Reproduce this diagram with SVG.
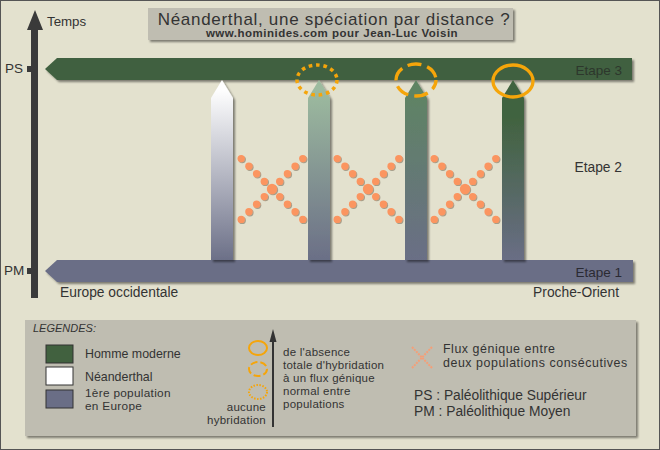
<svg xmlns="http://www.w3.org/2000/svg" width="660" height="450" viewBox="0 0 660 450">
<defs>
<filter id="sh" x="-10%" y="-10%" width="130%" height="140%"><feDropShadow dx="2" dy="2" stdDeviation="1" flood-color="#000" flood-opacity="0.45"/></filter>
<filter id="dsh" x="-50%" y="-50%" width="200%" height="200%"><feDropShadow dx="1" dy="1" stdDeviation="0.6" flood-color="#6b5a40" flood-opacity="0.5"/></filter>
<linearGradient id="g1" x1="0" y1="80" x2="0" y2="262" gradientUnits="userSpaceOnUse"><stop offset="0.05" stop-color="#ffffff"/><stop offset="1" stop-color="#6a6e86"/></linearGradient>
<linearGradient id="g2" x1="0" y1="80" x2="0" y2="262" gradientUnits="userSpaceOnUse"><stop offset="0.05" stop-color="#9dbb9f"/><stop offset="1" stop-color="#6a6e86"/></linearGradient>
<linearGradient id="g3" x1="0" y1="80" x2="0" y2="262" gradientUnits="userSpaceOnUse"><stop offset="0.05" stop-color="#5f8463"/><stop offset="1" stop-color="#6a6e86"/></linearGradient>
<linearGradient id="g4" x1="0" y1="80" x2="0" y2="262" gradientUnits="userSpaceOnUse"><stop offset="0.2" stop-color="#41633f"/><stop offset="1" stop-color="#6a6e86"/></linearGradient>
<g id="cross">
<circle cx="0" cy="0" r="5.2"/>
<circle cx="-7.7" cy="-7.6" r="3.7"/><circle cx="-15.4" cy="-15.2" r="3.7"/><circle cx="-23.1" cy="-22.8" r="3.7"/><circle cx="-30.8" cy="-30.4" r="3.7"/>
<circle cx="7.7" cy="7.6" r="3.7"/><circle cx="15.4" cy="15.2" r="3.7"/><circle cx="23.1" cy="22.8" r="3.7"/><circle cx="30.8" cy="30.4" r="3.7"/>
<circle cx="7.7" cy="-7.6" r="3.7"/><circle cx="15.4" cy="-15.2" r="3.7"/><circle cx="23.1" cy="-22.8" r="3.7"/><circle cx="30.8" cy="-30.4" r="3.7"/>
<circle cx="-7.7" cy="7.6" r="3.7"/><circle cx="-15.4" cy="15.2" r="3.7"/><circle cx="-23.1" cy="22.8" r="3.7"/><circle cx="-30.8" cy="30.4" r="3.7"/>
</g>
</defs>
<style>
text{font-family:"Liberation Sans",Arial,sans-serif;fill:#333}
.lbl{font-size:13.8px}
.leg{font-size:12.4px}
.leg2{font-size:11.8px;letter-spacing:0.3px}
.mid{font-size:11.5px;letter-spacing:0.25px}
.rleg{font-size:13.8px}
.rleg2{font-size:12.4px;letter-spacing:0.55px}
.ring{fill:none;stroke:#f5a50a}
.dots{fill:#fb9560;filter:url(#dsh)}
.col{filter:url(#sh)}
</style>
<rect x="0.5" y="0.5" width="659" height="449" fill="#e3e1ce" stroke="#555" stroke-width="1"/>

<g id="title">
<rect x="148" y="8" width="365" height="32" fill="#bfbdb1" filter="url(#sh)"/>
<text x="334" y="24.5" text-anchor="middle" font-size="17" letter-spacing="0.7">Néanderthal, une spéciation par distance ?</text>
<text x="332" y="37" text-anchor="middle" font-size="11.5" font-weight="bold" letter-spacing="0.5">www.hominides.com pour Jean-Luc Voisin</text>
</g>

<g id="axis">
<rect x="31" y="26" width="7" height="272" fill="#3a3a3a"/>
<path d="M35,10 L43,30 L27,30 Z" fill="#3a3a3a"/>
<rect x="27" y="66" width="5" height="6" fill="#3a3a3a"/>
<rect x="27" y="268" width="5" height="6" fill="#3a3a3a"/>
<text x="47" y="26" font-size="13.3">Temps</text>
<text x="5" y="73" font-size="13.5">PS</text>
<text x="4" y="275" font-size="13.5">PM</text>
</g>

<g id="etape3">
<path d="M57,58 L632,58 L632,80 L57,80 L45,69 Z" fill="#41613f" filter="url(#sh)"/>
<text x="622" y="75" text-anchor="end" font-size="13.5" style="fill:#2d372c">Etape 3</text>
</g>

<g id="etape1">
<path d="M57,260 L633,260 L633,282 L57,282 L45,271 Z" fill="#6a6e86" filter="url(#sh)"/>
<text x="622" y="277" text-anchor="end" font-size="13.5" style="fill:#2a2a33">Etape 1</text>
</g>

<text id="etape2" x="622" y="172" text-anchor="end" class="lbl">Etape 2</text>

<g id="columns">
<path class="col" d="M211,260 L211,98 L222,80 L233,98 L233,260 Z" fill="url(#g1)"/>
<path class="col" d="M308,260 L308,98 L319,80 L330,98 L330,260 Z" fill="url(#g2)"/>
<path class="col" d="M405,260 L405,98 L416,80 L427,98 L427,260 Z" fill="url(#g3)"/>
<path class="col" d="M502,260 L502,98 L513,80 L524,98 L524,260 Z" fill="url(#g4)"/>
</g>

<g id="rings">
<ellipse class="ring" cx="317" cy="80" rx="20" ry="15" stroke-width="3.5" stroke-dasharray="3.6 3.8"/>
<ellipse class="ring" cx="416" cy="80" rx="20" ry="16" stroke-width="3.3" stroke-dasharray="14 6" stroke-dashoffset="4"/>
<ellipse class="ring" cx="513" cy="81" rx="20" ry="16" stroke-width="3.3"/>
</g>

<g id="fluxes" class="dots">
<use href="#cross" x="272" y="189"/>
<use href="#cross" x="368" y="189"/>
<use href="#cross" x="465" y="189"/>
</g>

<text x="60" y="297" class="lbl">Europe occidentale</text>
<text x="619" y="297" text-anchor="end" class="lbl">Proche-Orient</text>

<g id="legend">
<rect x="25" y="320" width="611" height="116" fill="#bfbdb1" filter="url(#sh)"/>
<text x="33" y="332" font-size="11" font-style="italic">LEGENDES:</text>
<rect x="46" y="345" width="27" height="18" fill="#41613f" stroke="#333"/>
<rect x="46" y="367" width="27" height="18" fill="#ffffff" stroke="#333"/>
<rect x="46" y="390" width="27" height="18" fill="#6a6e86" stroke="#333"/>
<text x="85" y="358" class="leg">Homme moderne</text>
<text x="85" y="381" class="leg">Néanderthal</text>
<text x="85" y="397" class="leg2">1ère population</text>
<text x="85" y="410" class="leg2"> en Europe</text>

<ellipse class="ring" cx="258" cy="348" rx="9" ry="7" stroke-width="2"/>
<ellipse class="ring" cx="258" cy="369" rx="9" ry="7" stroke-width="2" stroke-dasharray="7 3"/>
<ellipse class="ring" cx="258" cy="392" rx="9" ry="7" stroke-width="2" stroke-dasharray="1.5 1.5"/>
<line x1="273" y1="427" x2="273" y2="340" stroke="#333" stroke-width="2"/>
<path d="M273,329 L276.5,342 L269.5,342 Z" fill="#333"/>
<text x="266" y="411" text-anchor="end" class="mid">aucune</text>
<text x="266" y="424" text-anchor="end" class="mid">hybridation</text>
<text x="283" y="356" class="mid">de l'absence</text>
<text x="283" y="369" class="mid">totale d'hybridation</text>
<text x="283" y="382" class="mid">à un flux génique</text>
<text x="283" y="395" class="mid">normal entre</text>
<text x="283" y="408" class="mid">populations</text>

<g stroke="#f49f78" stroke-width="2" stroke-dasharray="2 1">
<line x1="412" y1="347" x2="432" y2="368"/>
<line x1="432" y1="347" x2="412" y2="368"/>
</g>
<text x="443" y="353" class="rleg2">Flux génique entre</text>
<text x="443" y="367" class="rleg2">deux populations consécutives</text>
<text x="414" y="400" class="rleg">PS : Paléolithique Supérieur</text>
<text x="414" y="416" class="rleg">PM : Paléolithique Moyen</text>
</g>
</svg>
